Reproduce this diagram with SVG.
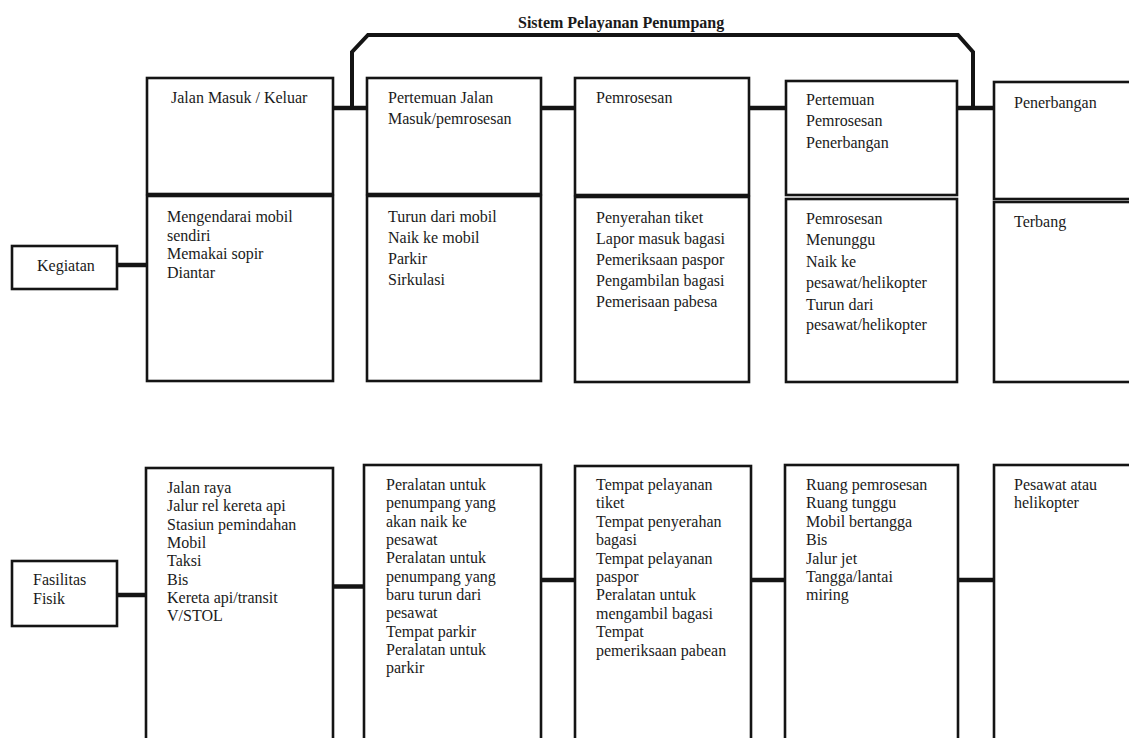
<svg xmlns="http://www.w3.org/2000/svg" width="1129" height="738" viewBox="0 0 1129 738">
<style>
.box{fill:#fff;stroke:#141414;stroke-width:2.6}
.con{fill:none;stroke:#141414;stroke-width:4.5}
.br{fill:none;stroke:#141414;stroke-width:4;stroke-linejoin:miter}
text{font-family:"Liberation Serif","Times New Roman",serif;font-size:16px;fill:#1a1a1a}
.title{font-weight:bold}
</style>
<rect width="1129" height="738" fill="#fff"/>
<g id="connectors">
<line class="con" x1="117" y1="265" x2="147" y2="265"/>
<line class="con" x1="333" y1="108" x2="367" y2="108"/>
<path class="br" d="M352,108 V52 L368,35 H958 L973,52 V108"/>
<line class="con" x1="541" y1="108" x2="575" y2="108"/>
<line class="con" x1="749" y1="108" x2="786" y2="108"/>
<line class="con" x1="957" y1="108" x2="994" y2="108"/>
<line class="con" x1="117" y1="595" x2="146" y2="595"/>
<line class="con" x1="333" y1="586.5" x2="364" y2="586.5"/>
<line class="con" x1="541" y1="580" x2="575" y2="580"/>
<line class="con" x1="751" y1="580" x2="785" y2="580"/>
<line class="con" x1="958" y1="580" x2="994" y2="580"/>
</g>
<g id="title"><text class="title" x="518" y="28">Sistem Pelayanan Penumpang</text></g>
<g id="kegiatan">
<rect class="box" x="12" y="246" width="105" height="43"/>
<text x="37" y="271">Kegiatan</text>
</g>
<g id="fasilitas">
<rect class="box" x="12" y="561" width="105" height="65"/>
<text x="33" y="585">Fasilitas</text>
<text x="33" y="604">Fisik</text>
</g>
<g id="jalan-masuk">
<rect class="box" x="147" y="78" width="186" height="116"/>
<text x="171" y="103">Jalan Masuk / Keluar</text>
<rect class="box" x="147" y="196" width="186" height="185"/>
<text x="167" y="222">Mengendarai mobil</text>
<text x="167" y="240.5">sendiri</text>
<text x="167" y="259">Memakai sopir</text>
<text x="167" y="277.5">Diantar</text>
</g>
<g id="pertemuan-jalan">
<rect class="box" x="367" y="78" width="174" height="116"/>
<text x="388" y="103">Pertemuan Jalan</text>
<text x="388" y="124">Masuk/pemrosesan</text>
<rect class="box" x="367" y="196" width="174" height="185"/>
<text x="388" y="222">Turun dari mobil</text>
<text x="388" y="243">Naik ke mobil</text>
<text x="388" y="264">Parkir</text>
<text x="388" y="285">Sirkulasi</text>
</g>
<g id="pemrosesan">
<rect class="box" x="575" y="78" width="174" height="117"/>
<text x="596" y="103">Pemrosesan</text>
<rect class="box" x="575" y="197" width="174" height="185"/>
<text x="596" y="223">Penyerahan tiket</text>
<text x="596" y="244">Lapor masuk bagasi</text>
<text x="596" y="265">Pemeriksaan paspor</text>
<text x="596" y="286">Pengambilan bagasi</text>
<text x="596" y="307">Pemerisaan pabesa</text>
</g>
<g id="pertemuan-pemrosesan">
<rect class="box" x="786" y="81" width="171" height="114"/>
<text x="806" y="105">Pertemuan</text>
<text x="806" y="126">Pemrosesan</text>
<text x="806" y="148">Penerbangan</text>
<rect class="box" x="786" y="199" width="171" height="183"/>
<text x="806" y="224">Pemrosesan</text>
<text x="806" y="245">Menunggu</text>
<text x="806" y="266.5">Naik ke</text>
<text x="806" y="288">pesawat/helikopter</text>
<text x="806" y="309.5">Turun dari</text>
<text x="806" y="330">pesawat/helikopter</text>
</g>
<g id="penerbangan">
<rect class="box" x="994" y="82" width="150" height="117"/>
<text x="1014" y="108">Penerbangan</text>
<rect class="box" x="994" y="202" width="150" height="180"/>
<text x="1014" y="227">Terbang</text>
</g>
<g id="fasilitas-jalan">
<rect class="box" x="146" y="468" width="187" height="300"/>
<text x="167" y="493">Jalan raya</text>
<text x="167" y="511.3">Jalur rel kereta api</text>
<text x="167" y="529.6">Stasiun pemindahan</text>
<text x="167" y="548">Mobil</text>
<text x="167" y="566.3">Taksi</text>
<text x="167" y="584.6">Bis</text>
<text x="167" y="603">Kereta api/transit</text>
<text x="167" y="621.3">V/STOL</text>
</g>
<g id="fasilitas-pertemuan">
<rect class="box" x="364" y="465" width="177" height="303"/>
<text x="386" y="490">Peralatan untuk</text>
<text x="386" y="508.3">penumpang yang</text>
<text x="386" y="526.6">akan naik ke</text>
<text x="386" y="545">pesawat</text>
<text x="386" y="563.3">Peralatan untuk</text>
<text x="386" y="581.6">penumpang yang</text>
<text x="386" y="600">baru turun dari</text>
<text x="386" y="618.3">pesawat</text>
<text x="386" y="636.6">Tempat parkir</text>
<text x="386" y="655">Peralatan untuk</text>
<text x="386" y="673.3">parkir</text>
</g>
<g id="fasilitas-pemrosesan">
<rect class="box" x="575" y="466" width="176" height="302"/>
<text x="596" y="490">Tempat pelayanan</text>
<text x="596" y="508.4">tiket</text>
<text x="596" y="526.8">Tempat penyerahan</text>
<text x="596" y="545.2">bagasi</text>
<text x="596" y="563.6">Tempat pelayanan</text>
<text x="596" y="582">paspor</text>
<text x="596" y="600.4">Peralatan untuk</text>
<text x="596" y="618.8">mengambil bagasi</text>
<text x="596" y="637.2">Tempat</text>
<text x="596" y="655.6">pemeriksaan pabean</text>
</g>
<g id="fasilitas-pertemuan-penerbangan">
<rect class="box" x="785" y="465" width="173" height="303"/>
<text x="806" y="490">Ruang pemrosesan</text>
<text x="806" y="508.4">Ruang tunggu</text>
<text x="806" y="526.8">Mobil bertangga</text>
<text x="806" y="545.2">Bis</text>
<text x="806" y="563.6">Jalur jet</text>
<text x="806" y="582">Tangga/lantai</text>
<text x="806" y="600.4">miring</text>
</g>
<g id="fasilitas-penerbangan">
<rect class="box" x="994" y="465" width="150" height="303"/>
<text x="1014" y="490">Pesawat atau</text>
<text x="1014" y="508.4">helikopter</text>
</g>
</svg>
